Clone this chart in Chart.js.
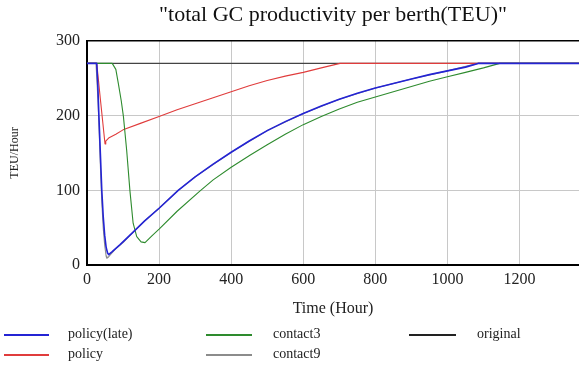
<!DOCTYPE html>
<html>
<head>
<meta charset="utf-8">
<script src="https://cdn.jsdelivr.net/npm/chart.js@4"></script>
<style>
  body { margin: 0; background: #fff; overflow: hidden; }
  #wrap { position: relative; width: 579px; height: 365px; }
  .leg { position: absolute; font: 14px "Liberation Serif", serif; color: #222; line-height: 16px; }
  .sw { position: absolute; height: 2px; }
</style>
</head>
<body>
<div id="wrap">
  <canvas id="chart" width="579" height="365"></canvas>
  <!-- legend, laid out in columns like the original -->
  <div class="sw" style="left:4px;top:334px;width:45px;background:#2424d4"></div>
  <div class="leg" style="left:68px;top:326px">policy(late)</div>
  <div class="sw" style="left:4px;top:354px;width:45px;background:#e03c3c"></div>
  <div class="leg" style="left:68px;top:346px">policy</div>
  <div class="sw" style="left:206px;top:334px;width:46px;background:#2e8b2e"></div>
  <div class="leg" style="left:273px;top:326px">contact3</div>
  <div class="sw" style="left:206px;top:354px;width:46px;background:#8c8c8c"></div>
  <div class="leg" style="left:273px;top:346px">contact9</div>
  <div class="sw" style="left:409px;top:334px;width:47px;background:#222"></div>
  <div class="leg" style="left:477px;top:326px">original</div>
</div>
<script>
// values (time in hours, TEU/Hour)
const policyLateT = [0, 27, 30, 33, 37, 41, 45, 49, 53, 57, 60, 70, 91, 128, 160, 200, 253, 300, 350, 400, 450, 500, 550, 600, 650, 700, 750, 800, 850, 900, 950, 1000, 1050, 1085, 1365];
const policyLateV = [270, 270, 240, 200, 150, 100, 65, 40, 24, 16, 14, 18, 27, 44, 59, 76, 100, 118, 135, 151, 166, 180, 192, 203, 213, 222, 230, 237, 243, 249, 255, 260, 265, 270, 270];

const policyT = [0, 27, 38, 50, 52, 60, 80, 100, 150, 200, 250, 300, 350, 400, 450, 500, 550, 600, 650, 702, 1365];
const policyV = [270, 270, 218, 162, 166, 170, 175, 181, 190, 199, 208, 216, 224, 232, 240, 247, 253, 258, 264, 270, 270];

const contact3T = [0, 70, 80, 87, 95, 101, 110, 119, 128, 138, 150, 161, 180, 200, 250, 313, 350, 400, 452, 500, 550, 600, 650, 700, 750, 800, 850, 900, 950, 1000, 1050, 1100, 1145, 1365];
const contact3V = [270, 270, 262, 243, 220, 199, 154, 100, 56, 38, 31, 30, 39, 48, 72, 99, 114, 131, 147, 161, 175, 188, 199, 209, 218, 225, 232, 239, 246, 252, 258, 264, 270, 270];

const contact9T = [0, 25, 30, 33, 37, 41, 45, 49, 53, 55, 58, 65, 80, 100, 128, 160, 200, 253, 300, 400, 500, 600, 700, 800, 900, 1000, 1085, 1365];
const contact9V = [270, 270, 225, 190, 135, 85, 50, 27, 12, 9, 10, 14, 22, 30, 44, 59, 76, 100, 118, 151, 180, 203, 222, 237, 249, 260, 270, 270];

const originalT = [0, 1365];
const originalV = [270, 270];

const xTicks = [0, 200, 400, 600, 800, 1000, 1200];

function pts(t, v) {
    return t.map((x, i) => ({ x: x, y: v[i] }));
}

const serif = 'Liberation Serif';

const ctx = document.getElementById('chart').getContext('2d');
const chart = new Chart(ctx, {
    type: 'line',
    data: {
        datasets: [
            { label: 'policy(late)', data: pts(policyLateT, policyLateV), borderColor: '#2424d4', borderWidth: 1.6, order: 0 },
            { label: 'contact3', data: pts(contact3T, contact3V), borderColor: '#2e8b2e', borderWidth: 1.1, order: 1 },
            { label: 'policy', data: pts(policyT, policyV), borderColor: '#e03c3c', borderWidth: 1.1, order: 2 },
            { label: 'contact9', data: pts(contact9T, contact9V), borderColor: '#8c8c8c', borderWidth: 1.1, order: 3 },
            { label: 'original', data: pts(originalT, originalV), borderColor: '#444', borderWidth: 1.1, order: 4 }
        ]
    },
    options: {
        responsive: false,
        animation: false,
        parsing: false,
        elements: { point: { radius: 0 }, line: { tension: 0, borderJoinStyle: 'round' } },
        layout: { padding: 0 },
        plugins: {
            legend: { display: false },
            tooltip: { enabled: false },
            title: {
                display: true,
                fullSize: false,
                text: '"total GC productivity per berth(TEU)"',
                color: '#111',
                font: { family: serif, size: 22, weight: 'normal' },
                padding: { top: 2, bottom: 12.6 }
            }
        },
        scales: {
            x: {
                type: 'linear',
                min: 0,
                max: 1365,
                afterBuildTicks: (s) => { s.ticks = xTicks.map(v => ({ value: v })); },
                afterFit: (s) => { s.height = 100; },
                ticks: { color: '#222', padding: 5, font: { family: serif, size: 16 }, callback: (v) => String(v) },
                grid: { color: '#c8c8c8', lineWidth: 1, drawTicks: false },
                border: { color: '#000', width: 2 },
                title: {
                    display: true,
                    text: 'Time (Hour)',
                    color: '#222',
                    font: { family: serif, size: 16 },
                    padding: { top: 0, bottom: 47 }
                }
            },
            y: {
                min: 0,
                max: 300,
                afterFit: (s) => { s.width = 87; },
                ticks: { stepSize: 100, color: '#222', padding: 7, font: { family: serif, size: 16 }, callback: (v) => String(v) },
                grid: {
                    drawTicks: false,
                    color: (c) => c.tick && c.tick.value === 300 ? '#000' : '#c8c8c8',
                    lineWidth: (c) => c.tick && c.tick.value === 300 ? 1.5 : 1
                },
                border: { color: '#000', width: 2 },
                title: {
                    display: true,
                    text: 'TEU/Hour',
                    color: '#222',
                    font: { family: serif, size: 12 },
                    padding: { top: 8, bottom: 0 }
                }
            }
        }
    }
});
</script>
</body>
</html>
